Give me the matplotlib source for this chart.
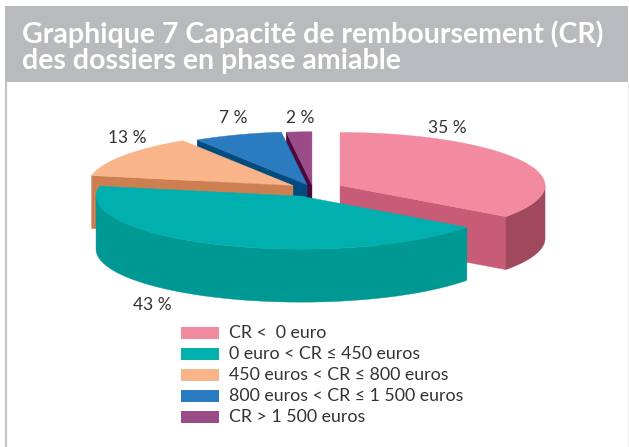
import numpy as np
import matplotlib.pyplot as plt
from matplotlib.patches import Polygon, Rectangle

plt.rcParams["font.family"] = ["Lato", "DejaVu Sans"]

# data
categories = [
    "CR <  0 euro",
    "0 euro < CR \u2264 450 euros",
    "450 euros < CR \u2264 800 euros",
    "800 euros < CR \u2264 1 500 euros",
    "CR > 1 500 euros",
]
shares = [35, 43, 13, 7, 2]
pct_labels = ["35 %", "43 %", "13 %", "7 %", "2 %"]

# style
TOP = ["#f28aa0", "#00b0ae", "#f9b489", "#2a7bbf", "#9a4c88"]
RADIAL = ["#c75b78", "#009893", "#cd7f52", "#004b7f", "#4b0839"]
CURVED = ["#a0485e", "#009893", "#b86a40", "#003c6a", "#3c062e"]
EXPLODE = [0.148, 0.147, 0.118, 0.086, 0.08]
LABEL_XY = [(447, 128), (152, 305), (127, 138), (233, 118), (300, 118)]

CX, CY = 313.0, 189.0
RX, RY = 205.0, 53.0
DEPTH = 53.0
TEXT = "#333333"


def pt(cx, cy, a, dz=0.0):
    r = np.radians(a)
    return cx + RX * np.cos(r), cy - RY * np.sin(r) + dz


def arc(cx, cy, a0, a1, dz=0.0, n=80):
    a = np.linspace(a0, a1, n)
    r = np.radians(a)
    return np.column_stack([cx + RX * np.cos(r), cy - RY * np.sin(r) + dz])


def front_interval(lo, hi):
    for base in (0, -360):
        a = max(lo, base - 180)
        b = min(hi, base)
        if b > a:
            return a, b
    return None


fig = plt.figure(figsize=(6.29, 4.47), dpi=100)
ax = fig.add_axes([0, 0, 1, 1])
ax.set_xlim(0, 629)
ax.set_ylim(447, 0)
ax.axis("off")

# frame and title bar
ax.add_patch(Rectangle((5, 6), 623, 76, color="#b9babd", lw=0))
ax.plot([5.5, 5.5], [82, 447], color="#c4c4c4", lw=1.6)
ax.plot([627.5, 627.5], [82, 447], color="#eeeeee", lw=0.8)
ax.text(22, 43, "Graphique 7 Capacité de remboursement (CR)", color="white",
        fontsize=20.5, fontweight="bold", va="baseline", ha="left")
ax.text(22, 69, "des dossiers en phase amiable", color="white",
        fontsize=20.5, fontweight="bold", va="baseline", ha="left")

# slices (start at 12 o'clock, clockwise)
cum = np.concatenate([[0], np.cumsum(shares)]) / sum(shares) * 360
slices = []
for i in range(len(shares)):
    hi = 90 - cum[i]
    lo = 90 - cum[i + 1]
    mid = (lo + hi) / 2
    m = np.radians(mid)
    cx = CX + EXPLODE[i] * RX * np.cos(m)
    cy = CY - EXPLODE[i] * RY * np.sin(m)
    slices.append((np.sin(m), i, lo, hi, cx, cy))

# back to front
for _, i, lo, hi, cx, cy in sorted(slices, reverse=True):
    # radial faces
    for a, vis in ((lo, np.cos(np.radians(lo)) > 0), (hi, np.cos(np.radians(hi)) < 0)):
        if vis:
            x, y = pt(cx, cy, a)
            quad = [(cx, cy), (x, y), (x, y + DEPTH), (cx, cy + DEPTH)]
            ax.add_patch(Polygon(quad, closed=True, fc=RADIAL[i], ec=RADIAL[i], lw=0.3))
    # curved outer side
    fr = front_interval(lo, hi)
    if fr is not None:
        top = arc(cx, cy, fr[0], fr[1])
        bot = arc(cx, cy, fr[1], fr[0], dz=DEPTH)
        ax.add_patch(Polygon(np.vstack([top, bot]), closed=True,
                             fc=CURVED[i], ec=CURVED[i], lw=0.3))
    # top face
    face = np.vstack([[cx, cy], arc(cx, cy, lo, hi)])
    ax.add_patch(Polygon(face, closed=True, fc=TOP[i], ec=TOP[i], lw=0.3))

for (x, y), s in zip(LABEL_XY, pct_labels):
    ax.text(x, y, s, color=TEXT, fontsize=12.5, ha="center", va="center")

# legend
for k, (name, col) in enumerate(zip(categories, TOP)):
    y = 333 + 21 * k
    ax.add_patch(Rectangle((181, y - 6), 38, 12, color=col, lw=0))
    ax.text(229, y, name, color=TEXT, fontsize=12.8, ha="left", va="center")

fig.savefig("out.png", dpi=100, facecolor="white")
